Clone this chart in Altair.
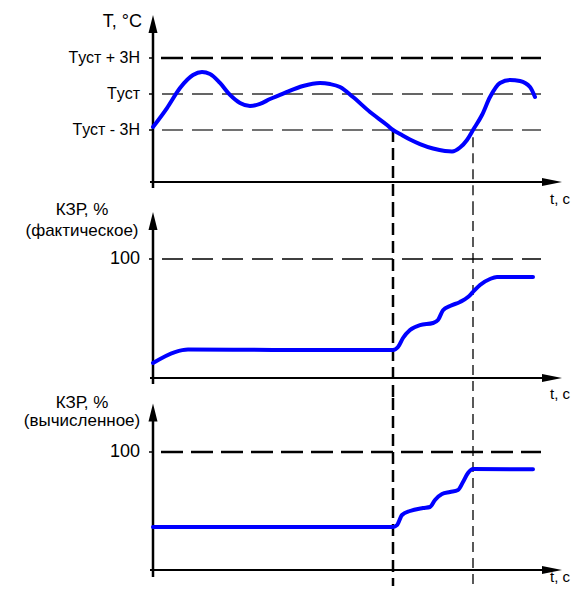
import altair as alt
import pandas as pd

FONT = "Liberation Sans"
BLUE = "#0000ff"

# ---------------- data (time in arbitrary units, origin = 0) ----------------
t_marks = [60, 80]          # the two instants marked by vertical dashed lines

# Panel 1: temperature relative to setpoint, in units of Н (Tуст = 0)
temp_t = [0, 3.5, 6.75, 10, 12.25, 14.25, 16.75, 19.25, 21.75, 24.25, 26.75,
          29.25, 31.75, 33.5, 37.5, 41.75, 44.25, 46.75, 50, 54.25, 58.5, 60,
          61.75, 64.25, 66.75, 70, 73, 74.75, 76.75, 78.5, 80, 82.25, 84.25,
          86.75, 89.25, 91.75, 94.25, 95.5]
temp_v = [-2.75, -1.17, 0.5, 1.58, 1.83, 1.67, 0.92, -0.08, -0.75, -1.0, -0.83,
          -0.42, -0.08, 0.17, 0.67, 0.92, 0.83, 0.58, -0.25, -1.5, -2.58, -3.0,
          -3.33, -3.79, -4.17, -4.54, -4.75, -4.79, -4.46, -3.83, -3.0, -1.75,
          -0.25, 0.92, 1.17, 1.08, 0.58, -0.25]
temp_levels = [3, 0, -3]
temp_labels = ["Tуст + 3Н", "Tуст", "Tуст - 3Н"]

# Panel 2: КЗР actual, %
act_t = [0, 5.5, 8.75, 30, 60, 61.25, 62.5, 64.25, 66.75, 70, 71.25, 72.5,
         74.25, 76.75, 78.75, 80, 81.75, 84.25, 86, 95]
act_p = [12.6, 21.8, 23.9, 23.6, 23.5, 26, 33.6, 40.3, 44.5, 46.2, 48.7, 57,
         60.5, 63.9, 68, 72.3, 78.2, 83.2, 84.9, 84.9]

# Panel 3: КЗР computed, %
calc_t = [0, 60, 61, 62.25, 64.25, 67.5, 69.25, 70.5, 72.25, 74.25, 76.25,
          77.5, 78.75, 80, 95]
calc_p = [36.4, 36.4, 38, 46.6, 50, 52.5, 53.4, 59.3, 64.4, 66.1, 67.8, 74.6,
          82.2, 85.6, 85.3]

kzr_level = [100]
kzr_label = ["100"]

# ---------------- layout ----------------
W = 563
H1, H2, H3 = 197, 193, 188
XS = alt.Scale(domain=[-36.25, 104.5], nice=False, zero=False)
DOM1 = [-9.25, 7.1667]
DOM2 = [-16.81, 145.38]
DOM3 = [-13.56, 145.76]
X_END = 98.5      # end of x-axis shaft
X_ARROW = 99.75   # centre of x-axis arrow head
DASH_END = 97
LABEL_X = 101.75

UP_ARROW = "M0,-1L0.5,1L-0.5,1Z"
RIGHT_ARROW = "M1,0L-1,0.4L-1,-0.4Z"


def xe(f):
    return alt.X(f"{f}:Q", scale=XS, axis=None)


def ye(f, dom):
    return alt.Y(f"{f}:Q", scale=alt.Scale(domain=dom, nice=False, zero=False), axis=None)


def hrule(y, x0, x1, dom, **style):
    d = pd.DataFrame({"x": [x0], "x2": [x1], "y": [y]})
    return alt.Chart(d).mark_rule(**style).encode(x=xe("x"), x2="x2:Q", y=ye("y", dom))


def vrule(x, y0, y1, dom, **style):
    d = pd.DataFrame({"x": [x], "y": [y0], "y2": [y1]})
    return alt.Chart(d).mark_rule(**style).encode(x=xe("x"), y=ye("y", dom), y2="y2:Q")


def arrow(x, y, dom, shape, size):
    d = pd.DataFrame({"x": [x], "y": [y]})
    return alt.Chart(d).mark_point(shape=shape, size=size, filled=True, color="black",
                                   opacity=1, strokeWidth=0).encode(x=xe("x"), y=ye("y", dom))


def text(xs, ys, labels, dom, **style):
    d = pd.DataFrame({"x": xs, "y": ys, "label": labels})
    return alt.Chart(d).mark_text(font=FONT, color="black", **style).encode(
        x=xe("x"), y=ye("y", dom), text="label:N")


def curve(ts, vs, dom):
    d = pd.DataFrame({"t": ts, "v": vs})
    return alt.Chart(d).mark_line(color=BLUE, strokeWidth=4, interpolate="monotone",
                                  strokeCap="round").encode(x=xe("t"), y=ye("v", dom))


def axes(dom, y_bottom, y_top, x_level):
    return [
        vrule(0, y_bottom, y_top, dom, color="black", strokeWidth=2.5),
        arrow(0, y_top, dom, UP_ARROW, 324),
        hrule(x_level, -0.75, X_END, dom, color="black", strokeWidth=1.8),
        arrow(X_ARROW, x_level, dom, RIGHT_ARROW, 400),
    ]


# ---------------- panel 1 ----------------
p1_layers = [
    hrule(temp_levels[0], 0, DASH_END, DOM1, color="black", strokeWidth=2.5, strokeDash=[22, 8], strokeDashOffset=22),
    hrule(temp_levels[1], 0, DASH_END, DOM1, color="#333333", strokeWidth=1.7, strokeDash=[21, 9], strokeDashOffset=21),
    hrule(temp_levels[2], 0, DASH_END, DOM1, color="#444444", strokeWidth=1.5, strokeDash=[21, 9], strokeDashOffset=21),
]
for lv in temp_levels:
    p1_layers.append(hrule(lv, -1.0, 0, DOM1, color="black", strokeWidth=1.5))
p1_layers += [
    vrule(t_marks[0], -3.0, DOM1[0], DOM1, color="black", strokeWidth=2.5, strokeDash=[12, 6]),
    vrule(t_marks[1], -3.6, DOM1[0], DOM1, color="black", strokeWidth=1.3, strokeDash=[10, 6]),
]
p1_layers += axes(DOM1, -7.833, 5.833, -7.333)
p1_layers += [
    curve(temp_t, temp_v, DOM1),
    text([0] * 3, temp_levels, temp_labels, DOM1, align="right", baseline="middle", dx=-13, fontSize=16),
    text([0], [6.0], ["T, °C"], DOM1, align="right", baseline="middle", dx=-11, fontSize=18),
    text([LABEL_X], [-7.333], ["t, c"], DOM1, align="center", baseline="alphabetic", dy=22, fontSize=15),
]
p1 = alt.layer(*p1_layers).properties(width=W, height=H1)

# ---------------- panel 2 ----------------
p2_layers = [
    hrule(kzr_level[0], 0, DASH_END, DOM2, color="black", strokeWidth=1.5, strokeDash=[21, 9], strokeDashOffset=21),
    hrule(kzr_level[0], -1.0, 0, DOM2, color="black", strokeWidth=1.5),
    vrule(t_marks[0], DOM2[1], DOM2[0], DOM2, color="black", strokeWidth=2.5, strokeDash=[12, 6]),
    vrule(t_marks[1], DOM2[1], DOM2[0], DOM2, color="black", strokeWidth=1.3, strokeDash=[10, 6]),
]
p2_layers += axes(DOM2, -5.04, 131.9, 0)
p2_layers += [
    curve(act_t, act_p, DOM2),
    text([0], kzr_level, kzr_label, DOM2, align="right", baseline="middle", dx=-13, fontSize=18),
    text([0, 0], [141.2, 123.5], ["КЗР, %", "(фактическое)"], DOM2, align="center",
         baseline="middle", dx=-71, fontSize=17),
    text([LABEL_X], [0], ["t, c"], DOM2, align="center", baseline="alphabetic", dy=21, fontSize=15),
]
p2 = alt.layer(*p2_layers).properties(width=W, height=H2)

# ---------------- panel 3 ----------------
p3_layers = [
    hrule(kzr_level[0], 0, DASH_END, DOM3, color="black", strokeWidth=2.5, strokeDash=[22, 8], strokeDashOffset=22),
    hrule(kzr_level[0], -1.0, 0, DOM3, color="black", strokeWidth=1.5),
    vrule(t_marks[0], DOM3[1], DOM3[0], DOM3, color="black", strokeWidth=2.5, strokeDash=[12, 6]),
    vrule(t_marks[1], DOM3[1], DOM3[0], DOM3, color="black", strokeWidth=1.3, strokeDash=[10, 6]),
]
p3_layers += axes(DOM3, -5.93, 133.5, 0)
p3_layers += [
    curve(calc_t, calc_p, DOM3),
    text([0], kzr_level, kzr_label, DOM3, align="right", baseline="middle", dx=-13, fontSize=18),
    text([0, 0], [141.5, 126.3], ["КЗР, %", "(вычисленное)"], DOM3, align="center",
         baseline="middle", dx=-71, fontSize=17),
    text([LABEL_X], [0], ["t, c"], DOM3, align="center", baseline="alphabetic", dy=12, fontSize=15,
         clip=True),
]
p3 = alt.layer(*p3_layers).properties(width=W, height=H3)

chart = alt.vconcat(p1, p2, p3, spacing=0, bounds="flush").properties(
    padding=0
).configure_view(stroke=None)

chart.save("out.html", embed_options={"renderer": "svg", "actions": False})
